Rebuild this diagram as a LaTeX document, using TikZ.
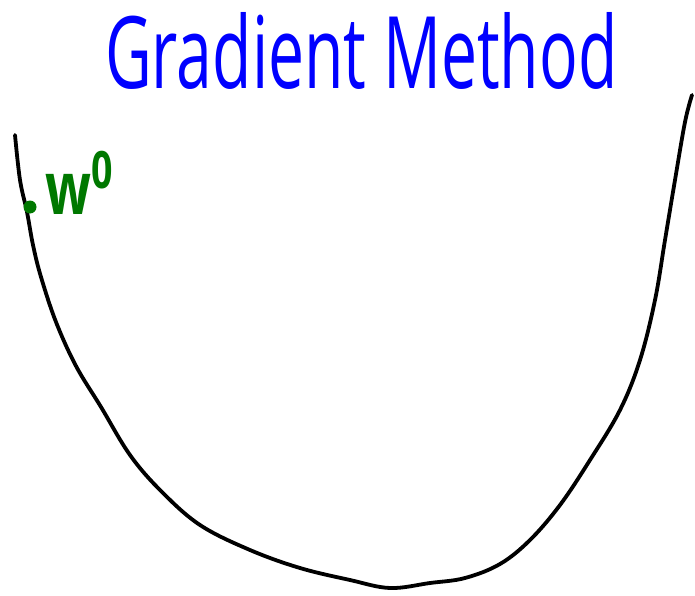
\documentclass[tikz,border=0pt]{standalone}
\usepackage{fontspec}
\setmainfont{Open Sans}
\definecolor{titleblue}{RGB}{0,0,255}
\definecolor{ptgreen}{RGB}{0,120,0}
\begin{document}
\begin{tikzpicture}[x=1pt,y=-1pt,
  curve/.style={line width=3.8pt,line cap=round,line join=round,black},
  titletext/.style={text=titleblue,inner sep=0pt,anchor=south west},
  ptlabel/.style={text=ptgreen,inner sep=0pt,anchor=south west}]
\useasboundingbox[fill=white] (0,0) rectangle (695,596);
\draw[curve] plot[smooth,tension=0.6] coordinates {
 (15,135) (20,180) (27,212) (33,245) (41,277) (56,322) (76,366) (101,407)
 (130,455) (161,491) (200,525) (250,550) (300,568) (350,580) (390,588)
 (430,583) (465,578) (500,564) (530,540) (560,505) (590,460) (620,410)
 (640,360) (655,300) (665,240) (675,180) (685,122) (692,95)};
\fill[ptgreen] (30,207) circle (6.5) coordinate (w0);
\node[ptlabel] (lab) at (45,215) {\resizebox{70pt}{64pt}{\bfseries w\textsuperscript{0}}};
\node[titletext] (title) at (105,90) {\resizebox{512pt}{76pt}{Gradient Method}};
\end{tikzpicture}
\end{document}
